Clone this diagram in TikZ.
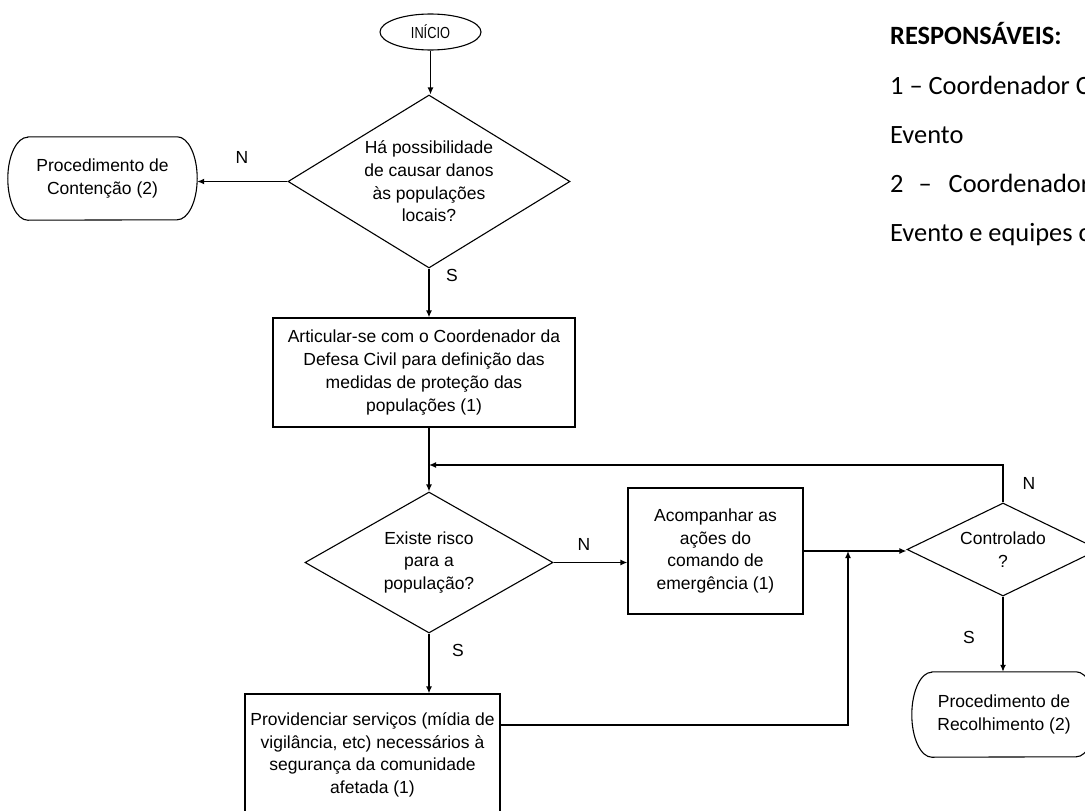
\documentclass[tikz,border=0pt]{standalone}
\usepackage{fontspec}
\usepackage{graphicx}
\setmainfont{Liberation Sans}
\newfontfamily\legendfont{Carlito}
\usetikzlibrary{shapes.geometric,arrows.meta,calc}

\tikzset{
  flow/.style={font=\fontsize{17.5}{22.7}\selectfont, align=center, text=black},
  procbox/.style={flow, draw=black, line width=1.2pt, rectangle, inner sep=0pt},
  decision/.style={flow, draw=black, line width=1.1pt, diamond, inner sep=0pt},
  terminal/.style={flow, draw=none, rectangle, inner sep=0pt},
  startnode/.style={flow, draw=black, line width=1.1pt, ellipse, inner sep=0pt,
                    minimum width=101pt, minimum height=36pt,
                    font=\fontsize{16}{18}\selectfont},
  conn/.style={line width=1.3pt, -{Latex[length=7pt,width=6pt]}},
  tag/.style={font=\fontsize{17.5}{21}\selectfont, inner sep=0pt},
  legendtext/.style={font=\legendfont\fontsize{26.4}{30}\selectfont, anchor=base west, inner sep=0pt},
  legendhead/.style={font=\legendfont\bfseries\fontsize{26.4}{30}\selectfont, anchor=base west, inner sep=0pt},
}

% outline of a terminator: straight top/bottom, elliptic ends
% #1 node name, #2 end x-radius, #3 half height
\newcommand\terminatoroutline[3]{%
  \draw[line width=1.1pt] ([xshift=#2]#1.north west) -- ([xshift=-#2]#1.north east)
    arc[start angle=90, end angle=-90, x radius=#2, y radius=#3]
    -- ([xshift=#2]#1.south west)
    arc[start angle=270, end angle=90, x radius=#2, y radius=#3] -- cycle;}

\begin{document}
\begin{tikzpicture}[x=1pt, y=-1pt]
\useasboundingbox (0,0) rectangle (1085,811);

% start
\node[startnode] (inicio) at (430.5,32) {\scalebox{0.8}[1]{INÍCIO}};

% first decision and its "no" branch
\node[decision, shape aspect=1.63, minimum width=282pt, minimum height=173pt]
  (d1) at (429,181.5) {Há possibilidade\\de causar danos\\às populações\\locais?};
\node[terminal, minimum width=189pt, minimum height=83pt]
  (contencao) at (102.5,178.5) {Procedimento de\\Contenção (2)};
\terminatoroutline{contencao}{20pt}{41.5pt}

% coordination box
\node[procbox, minimum width=302pt, minimum height=109pt]
  (articular) at (424,372.5) {Articular-se com o Coordenador da\\Defesa Civil para definição das\\medidas de proteção das\\populações (1)};

% second decision
\node[decision, shape aspect=1.76, minimum width=248pt, minimum height=141pt]
  (d2) at (429,562.5) {Existe risco\\para a\\população?};

\node[procbox, minimum width=175pt, minimum height=126pt]
  (acomp) at (715.5,551) {Acompanhar as\\ações do\\comando de\\emergência (1)};

\node[procbox, minimum width=255pt, minimum height=122pt]
  (prov) at (372.5,755) {Providenciar serviços (mídia de\\vigilância, etc) necessários à\\segurança da comunidade\\afetada (1)};

% third decision
\node[decision, shape aspect=2.06, minimum width=192pt, minimum height=93pt]
  (d3) at (1003,549.5) {Controlado\\?};

\node[terminal, minimum width=184pt, minimum height=85pt]
  (recolh) at (1004,714.5) {Procedimento de\\Recolhimento (2)};
\terminatoroutline{recolh}{20pt}{42.5pt}

% helper points for merges
\coordinate (mx) at (848,0);
\coordinate (merge) at (mx |- acomp.east);
\coordinate (loopy) at (0,465);

% connectors
\draw[conn] (inicio.south) -- (inicio.south |- d1.north);
\draw[conn] (d1.west) -- (d1.west -| contencao.east);
\draw[conn] (d1.south) -- (d1.south |- articular.north);
\draw[conn] (d2.north |- articular.south) -- (d2.north);
\draw[conn] (d2.east) -- (d2.east -| acomp.west);
\draw[conn] (d2.south) -- (d2.south |- prov.north);
\draw[conn] (acomp.east) -- (acomp.east -| d3.west);
\draw[conn] ([yshift=30pt]prov.east) -| (merge);
\draw[conn] (d3.north) |- (d2.north |- loopy);
\draw[conn] (d3.south) -- (d3.south |- recolh.north);

% branch labels
\node[tag] (n1) at (242,157) {N};
\node[tag] (s1) at (452,275) {S};
\node[tag] (n2) at (584,544) {N};
\node[tag] (s2) at (458,650) {S};
\node[tag] (n3) at (1029,483) {N};
\node[tag] (s3) at (969,637) {S};

% responsibilities
\node[legendhead] (resp) at (890,45) {RESPONSÁVEIS:};
\node[legendtext] (r1) at (890,94) {1 – Coordenador C};
\node[legendtext] (r1b) at (890,143) {Evento};
\node[legendtext] (r2) at (890,192) {2\hspace{15pt}–\hspace{17pt}Coordenador};
\node[legendtext] (r2b) at (890,241) {Evento e equipes c};
\end{tikzpicture}
\end{document}
